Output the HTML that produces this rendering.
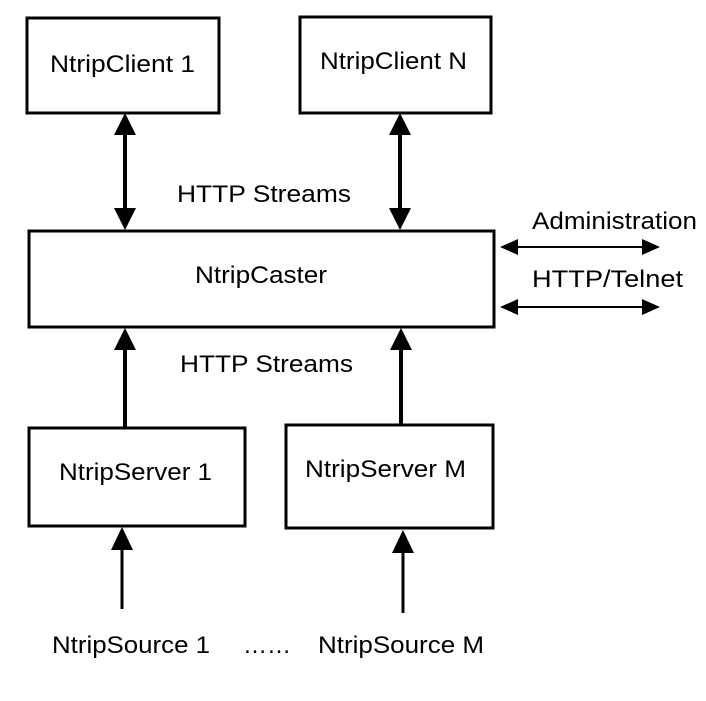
<!DOCTYPE html>
<html><head><meta charset="utf-8"><style>html,body{margin:0;padding:0;background:#fff}</style></head>
<body>
<svg width="706" height="696" viewBox="0 0 706 696" xmlns="http://www.w3.org/2000/svg" font-family="Liberation Sans, Arial, sans-serif" font-size="24" fill="#000">
<g fill="none" stroke="#000" stroke-width="3">
<rect x="27" y="18" width="192" height="95"/>
<rect x="300" y="17" width="191" height="96"/>
<rect x="29" y="231" width="465" height="96"/>
<rect x="29" y="428" width="216" height="98"/>
<rect x="286" y="425" width="207" height="103"/>
<line x1="125" y1="130" x2="125" y2="212" stroke-width="4"/>
<line x1="400" y1="130" x2="400" y2="212" stroke-width="4"/>
<line x1="125" y1="350" x2="125" y2="427" stroke-width="4"/>
<line x1="401" y1="350" x2="401" y2="424" stroke-width="4"/>
<line x1="122" y1="545" x2="122" y2="609" stroke-width="3"/>
<line x1="403" y1="548" x2="403" y2="613" stroke-width="3"/>
<line x1="512" y1="247" x2="648" y2="247" stroke-width="2"/>
<line x1="512" y1="307" x2="648" y2="307" stroke-width="2"/>
</g>
<g>
<polygon points="125,113 114,135 136,135"/>
<polygon points="125,230 114,208 136,208"/>
<polygon points="400,113 389,135 411,135"/>
<polygon points="400,230 389,208 411,208"/>
<polygon points="125,328 114,350 136,350"/>
<polygon points="401,328 390,350 412,350"/>
<polygon points="122,527 111,550 133,550"/>
<polygon points="403,530 392,553 414,553"/>
<polygon points="500,247 518,239 518,255"/>
<polygon points="660,247 642,239 642,255"/>
<polygon points="500,307 518,299 518,315"/>
<polygon points="660,307 642,299 642,315"/>
</g>
<text x="50" y="72" textLength="145" lengthAdjust="spacingAndGlyphs">NtripClient 1</text>
<text x="320" y="69" textLength="147" lengthAdjust="spacingAndGlyphs">NtripClient N</text>
<text x="177" y="202" textLength="174" lengthAdjust="spacingAndGlyphs">HTTP Streams</text>
<text x="532" y="229" textLength="165" lengthAdjust="spacingAndGlyphs">Administration</text>
<text x="532" y="287" textLength="151" lengthAdjust="spacingAndGlyphs">HTTP/Telnet</text>
<text x="195" y="283" textLength="132" lengthAdjust="spacingAndGlyphs">NtripCaster</text>
<text x="180" y="372" textLength="173" lengthAdjust="spacingAndGlyphs">HTTP Streams</text>
<text x="59" y="480" textLength="153" lengthAdjust="spacingAndGlyphs">NtripServer 1</text>
<text x="305" y="477" textLength="161" lengthAdjust="spacingAndGlyphs">NtripServer M</text>
<text x="52" y="653" textLength="158" lengthAdjust="spacingAndGlyphs">NtripSource 1</text>
<text x="243" y="653" textLength="48" lengthAdjust="spacingAndGlyphs">……</text>
<text x="318" y="653" textLength="166" lengthAdjust="spacingAndGlyphs">NtripSource M</text>
</svg>
</body></html>
